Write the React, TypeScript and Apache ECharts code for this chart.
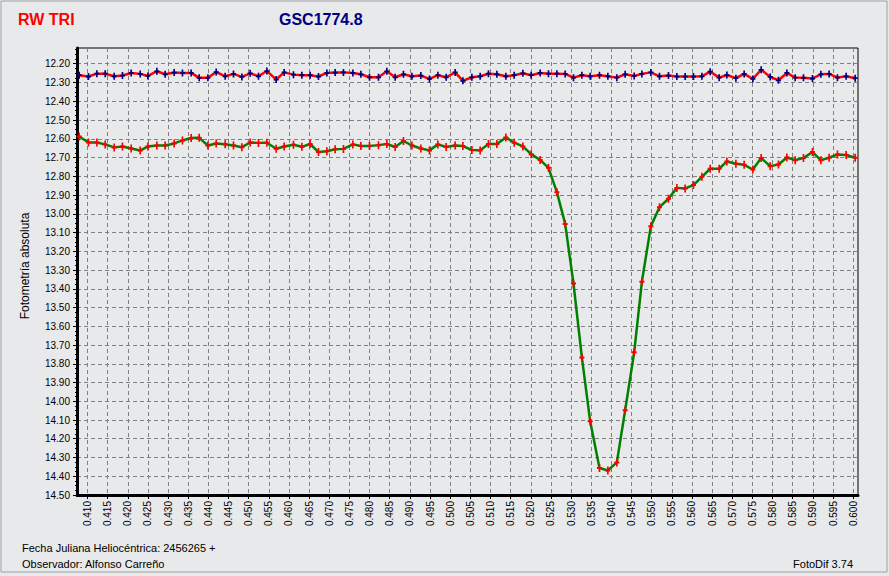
import React, { useEffect, useRef } from 'react';
import * as echarts from 'echarts';

// Heliocentric Julian Date (fraction, + 2456265)
const hjd = [
  0.40794, 0.41025, 0.41233, 0.41439, 0.41663, 0.41868, 0.42084, 0.42308, 0.42499, 0.42722,
  0.42928, 0.43151, 0.43357, 0.43573, 0.43772, 0.43988, 0.44194, 0.44417, 0.44623, 0.44831,
  0.45037, 0.45243, 0.45452, 0.45682, 0.45881, 0.46112, 0.4632, 0.46526, 0.46732, 0.4694,
  0.47146, 0.47352, 0.47586, 0.47784, 0.47998, 0.48221, 0.48429, 0.48635, 0.48841, 0.4905,
  0.49273, 0.49486, 0.49695, 0.49901, 0.50124, 0.50315, 0.50538, 0.50744, 0.5095, 0.51159,
  0.51382, 0.51588, 0.51804, 0.5201, 0.52233, 0.52439, 0.52648, 0.52854, 0.5306, 0.53268,
  0.53474, 0.53705, 0.53913, 0.54136, 0.54342, 0.54566, 0.54757, 0.5498, 0.55194, 0.55417,
  0.55625, 0.55831, 0.56037, 0.56246, 0.56452, 0.56675, 0.56866, 0.5709, 0.57295, 0.57511,
  0.57717, 0.57941, 0.58146, 0.58355, 0.58561, 0.58767, 0.5899, 0.59199, 0.59404, 0.5961,
  0.59826, 0.6005,
];

// GSC1774.8 (comparison star) magnitudes
const compStar = [
  12.261, 12.268, 12.253, 12.253, 12.267, 12.263, 12.249, 12.254, 12.265, 12.240,
  12.256, 12.247, 12.249, 12.249, 12.275, 12.275, 12.244, 12.267, 12.254, 12.270,
  12.251, 12.267, 12.239, 12.284, 12.246, 12.258, 12.261, 12.261, 12.268, 12.249,
  12.247, 12.246, 12.249, 12.256, 12.272, 12.272, 12.240, 12.272, 12.256, 12.267,
  12.263, 12.281, 12.261, 12.272, 12.246, 12.291, 12.272, 12.267, 12.253, 12.256,
  12.267, 12.261, 12.251, 12.261, 12.249, 12.253, 12.253, 12.254, 12.274, 12.261,
  12.267, 12.261, 12.267, 12.274, 12.256, 12.265, 12.254, 12.246, 12.267, 12.263,
  12.268, 12.268, 12.268, 12.267, 12.242, 12.274, 12.260, 12.277, 12.254, 12.281,
  12.232, 12.270, 12.288, 12.249, 12.274, 12.275, 12.279, 12.256, 12.254, 12.274,
  12.267, 12.277,
];

// RW TRI (variable) magnitudes
const rwTri = [
  12.588, 12.620, 12.620, 12.630, 12.646, 12.641, 12.652, 12.663, 12.641, 12.636,
  12.636, 12.625, 12.609, 12.596, 12.595, 12.636, 12.625, 12.629, 12.636, 12.645,
  12.620, 12.622, 12.621, 12.653, 12.641, 12.632, 12.643, 12.628, 12.671, 12.667,
  12.656, 12.654, 12.630, 12.639, 12.639, 12.634, 12.628, 12.644, 12.612, 12.636,
  12.652, 12.662, 12.630, 12.644, 12.636, 12.639, 12.660, 12.662, 12.628, 12.628,
  12.593, 12.621, 12.641, 12.682, 12.713, 12.755, 12.885, 13.054, 13.372, 13.766,
  14.107, 14.356, 14.369, 14.326, 14.048, 13.739, 13.363, 13.066, 12.965, 12.920,
  12.862, 12.865, 12.847, 12.803, 12.760, 12.760, 12.721, 12.733, 12.739, 12.764,
  12.703, 12.746, 12.737, 12.700, 12.714, 12.703, 12.671, 12.714, 12.701, 12.684,
  12.687, 12.701,
];

const xTicks = [
  0.410, 0.415, 0.420, 0.425, 0.430, 0.435, 0.440, 0.445, 0.450, 0.455,
  0.460, 0.465, 0.470, 0.475, 0.480, 0.485, 0.490, 0.495, 0.500, 0.505,
  0.510, 0.515, 0.520, 0.525, 0.530, 0.535, 0.540, 0.545, 0.550, 0.555,
  0.560, 0.565, 0.570, 0.575, 0.580, 0.585, 0.590, 0.595, 0.600,
];

const yTicks = [
  12.2, 12.3, 12.4, 12.5, 12.6, 12.7, 12.8, 12.9, 13.0, 13.1, 13.2, 13.3,
  13.4, 13.5, 13.6, 13.7, 13.8, 13.9, 14.0, 14.1, 14.2, 14.3, 14.4, 14.5,
];

const X_MIN = 0.4074;
const X_MAX = 0.6012;
const Y_MIN = 12.116;
const Y_MAX = 14.5;

function minorOf(ticks: number[], lo: number, hi: number, parts: number) {
  const out: number[] = [];
  const step = ticks[1] - ticks[0];
  const sub = step / parts;
  for (let v = ticks[0] - step; v <= ticks[ticks.length - 1] + step; v += step) {
    for (let k = 1; k < parts; k++) {
      const m = v + k * sub;
      if (m > lo && m < hi) out.push(+m.toFixed(6));
    }
  }
  return out;
}

const PLUS = 'path://M2,0H4V3H6V5H4V8H2V5H0V3H2Z';
const FONT = '"Liberation Sans", Arial, sans-serif';
const BG = '#e8e9eb';

export default function App() {
  const ref = useRef<HTMLDivElement>(null);
  useEffect(() => {
    if (!ref.current) return;
    const chart = echarts.init(ref.current, undefined, { renderer: 'svg' });
    const gridLine = { show: true, lineStyle: { color: '#808080', type: [4, 3] as any, width: 1 } };
    chart.setOption({
      animation: false,
      backgroundColor: BG,
      textStyle: { fontFamily: FONT },
      grid: {
        left: 77, right: 31, top: 48, bottom: 81,
        show: true, borderColor: '#000', borderWidth: 1, backgroundColor: 'transparent',
      },
      xAxis: [
        {
          type: 'value', min: X_MIN, max: X_MAX, position: 'bottom',
          axisLine: { show: true, onZero: false, lineStyle: { color: '#000', width: 3 } },
          axisTick: { show: true, customValues: xTicks, length: 4, lineStyle: { color: '#000' } },
          axisLabel: {
            customValues: xTicks, rotate: 90, margin: 6, fontSize: 10, color: '#000',
            fontFamily: FONT, formatter: (v: number) => v.toFixed(3),
          },
          splitLine: gridLine,
        },
        {
          type: 'value', min: X_MIN, max: X_MAX, position: 'bottom',
          axisLine: { show: false },
          axisTick: { show: true, customValues: minorOf(xTicks, X_MIN, X_MAX, 4), length: 2, lineStyle: { color: '#000' } },
          axisLabel: { show: false },
          splitLine: { show: false },
        },
      ],
      yAxis: [
        {
          type: 'value', inverse: true, min: Y_MIN, max: Y_MAX, position: 'left',
          axisLine: { show: true, onZero: false, lineStyle: { color: '#000', width: 3 } },
          axisTick: { show: true, customValues: yTicks, length: 4, lineStyle: { color: '#000' } },
          axisLabel: {
            customValues: yTicks, margin: 7, fontSize: 10, color: '#000',
            fontFamily: FONT, formatter: (v: number) => v.toFixed(2),
          },
          splitLine: gridLine,
        },
        {
          type: 'value', inverse: true, min: Y_MIN, max: Y_MAX, position: 'left',
          axisLine: { show: false },
          axisTick: { show: true, customValues: minorOf(yTicks, Y_MIN, Y_MAX, 4), length: 2, lineStyle: { color: '#000' } },
          axisLabel: { show: false },
          splitLine: { show: false },
        },
      ],
      series: [
        {
          name: 'GSC1774.8', type: 'line', xAxisIndex: 0, yAxisIndex: 0,
          data: hjd.map((x, i) => [x, compStar[i]]),
          lineStyle: { color: '#ff0000', width: 2.5 },
          symbol: PLUS, symbolSize: [5, 7], showAllSymbol: true,
          itemStyle: { color: '#000080' },
        },
        {
          name: 'RW TRI', type: 'line', xAxisIndex: 0, yAxisIndex: 0,
          data: hjd.map((x, i) => [x, rwTri[i]]),
          lineStyle: { color: '#008000', width: 2.5 },
          symbol: PLUS, symbolSize: [5, 8], showAllSymbol: true,
          itemStyle: { color: '#ff0000' },
        },
      ],
      graphic: [
        { type: 'rect', shape: { x: 1, y: 1, width: 886, height: 571 }, style: { fill: 'none', stroke: '#a0a0a0', lineWidth: 1 }, silent: true },
        { type: 'text', x: 18, y: 19.5, style: { text: 'RW TRI', fill: '#ff0000', font: `bold 16px ${FONT}`, textVerticalAlign: 'middle' } },
        { type: 'text', x: 279, y: 19.5, style: { text: 'GSC1774.8', fill: '#000080', font: `bold 16px ${FONT}`, textVerticalAlign: 'middle' } },
        { type: 'text', x: 25, y: 266, rotation: Math.PI / 2, style: { text: 'Fotometría absoluta', fill: '#000', font: `12px ${FONT}`, textAlign: 'center', textVerticalAlign: 'middle' } },
        { type: 'text', x: 22, y: 548, style: { text: 'Fecha Juliana Heliocéntrica: 2456265 +', fill: '#000', font: `11px ${FONT}`, textVerticalAlign: 'middle' } },
        { type: 'text', x: 22, y: 564, style: { text: 'Observador: Alfonso Carreño', fill: '#000', font: `11px ${FONT}`, textVerticalAlign: 'middle' } },
        { type: 'text', x: 853, y: 564, style: { text: 'FotoDif 3.74', fill: '#000', font: `11px ${FONT}`, textAlign: 'right', textVerticalAlign: 'middle' } },
      ],
    });
    return () => chart.dispose();
  }, []);
  return <div ref={ref} style={{ position: 'absolute', left: 0, top: 0, width: 889, height: 576 }} />;
}
